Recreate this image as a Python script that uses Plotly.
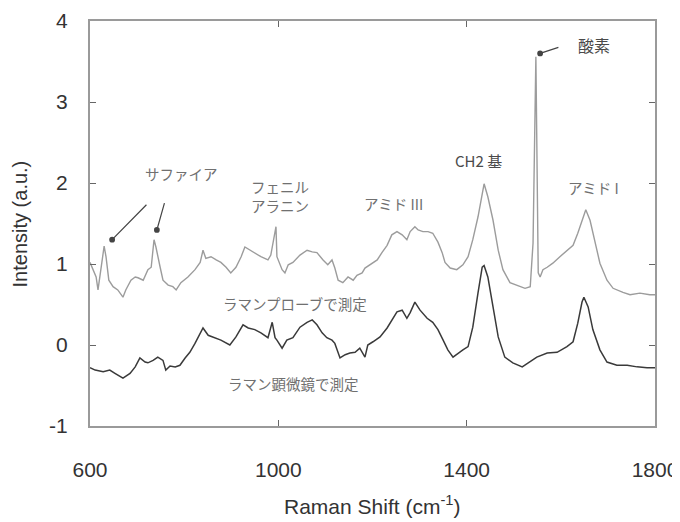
import plotly.graph_objects as go

# Top spectrum (Raman probe) — wavenumber (cm-1) and intensity
probe_x = [600, 602, 613, 617, 623, 630, 634, 640, 649, 659, 670, 676, 687, 696, 702, 713,
           723, 730, 736, 740, 749, 755, 766, 776, 783, 793, 808, 823, 834, 840, 846, 857,
           868, 878, 889, 899, 910, 921, 929, 940, 950, 963, 978, 984, 995, 997, 1008, 1014,
           1021, 1031, 1046, 1061, 1072, 1082, 1095, 1105, 1114, 1120, 1127, 1137, 1148, 1159,
           1167, 1178, 1184, 1195, 1201, 1210, 1220, 1231, 1241, 1252, 1263, 1273, 1280, 1290,
           1297, 1307, 1318, 1328, 1339, 1348, 1354, 1365, 1379, 1392, 1403, 1413, 1424, 1435,
           1437, 1445, 1456, 1467, 1477, 1492, 1507, 1524, 1535, 1541, 1547, 1552, 1556, 1562,
           1571, 1583, 1598, 1613, 1626, 1636, 1647, 1653, 1662, 1673, 1683, 1698, 1711, 1732,
           1747, 1768, 1789, 1800]
probe_y = [1.02, 0.99, 0.84, 0.68, 0.93, 1.22, 1.09, 0.80, 0.72, 0.68, 0.59, 0.68, 0.80, 0.84, 0.83, 0.80,
           0.93, 0.96, 1.30, 1.21, 0.96, 0.80, 0.74, 0.72, 0.68, 0.77, 0.84, 0.93, 1.02, 1.17, 1.07, 1.09,
           1.05, 1.02, 0.96, 0.89, 0.96, 1.09, 1.21, 1.17, 1.14, 1.09, 1.05, 1.11, 1.46, 1.09, 0.93, 0.89,
           0.99, 1.02, 1.11, 1.17, 1.15, 1.14, 1.05, 0.99, 1.05, 0.95, 0.80, 0.77, 0.84, 0.80,
           0.86, 0.89, 0.95, 0.99, 1.01, 1.05, 1.14, 1.23, 1.36, 1.40, 1.36, 1.30, 1.40, 1.46,
           1.42, 1.40, 1.40, 1.38, 1.27, 1.14, 1.02, 0.95, 0.93, 0.99, 1.09, 1.30, 1.58, 1.91,
           1.99, 1.83, 1.54, 1.17, 0.93, 0.77, 0.74, 0.70, 0.72, 1.26, 3.56, 0.89, 0.84, 0.93,
           0.96, 1.01, 1.09, 1.17, 1.23, 1.38, 1.58, 1.67, 1.54, 1.26, 1.01, 0.80, 0.70, 0.65,
           0.62, 0.64, 0.62, 0.62]

# Bottom spectrum (Raman microscope)
micro_x = [600, 611, 628, 642, 653, 670, 685, 696, 706, 717, 723, 734, 744, 755, 761, 770,
           781, 791, 802, 812, 823, 834, 840, 851, 865, 878, 897, 910, 925, 936, 950, 963,
           978, 987, 993, 997, 1008, 1018, 1031, 1046, 1061, 1072, 1082, 1093, 1103, 1114,
           1120, 1131, 1142, 1152, 1163, 1173, 1184, 1190, 1201, 1216, 1231, 1241, 1252, 1263,
           1273, 1280, 1290, 1301, 1316, 1328, 1339, 1350, 1360, 1371, 1382, 1392, 1403, 1413,
           1424, 1433, 1437, 1445, 1456, 1467, 1481, 1498, 1518, 1535, 1549, 1571, 1592, 1613,
           1626, 1636, 1645, 1649, 1658, 1668, 1683, 1698, 1719, 1741, 1762, 1783, 1800]
micro_y = [-0.28, -0.31, -0.33, -0.31, -0.35, -0.41, -0.35, -0.27, -0.16, -0.21, -0.22, -0.19, -0.15, -0.19, -0.31, -0.26,
           -0.27, -0.25, -0.16, -0.09, 0.02, 0.15, 0.21, 0.12, 0.09, 0.06, 0.00, 0.10, 0.25, 0.21, 0.19, 0.15,
           0.09, 0.28, 0.09, 0.06, -0.04, 0.06, 0.09, 0.22, 0.28, 0.31, 0.25, 0.15, 0.09, 0.06,
           0.02, -0.16, -0.12, -0.10, -0.09, -0.04, -0.15, 0.00, 0.04, 0.10, 0.21, 0.31, 0.41, 0.43,
           0.33, 0.40, 0.53, 0.43, 0.33, 0.28, 0.19, 0.06, -0.06, -0.15, -0.10, -0.06, -0.02, 0.22,
           0.64, 0.96, 0.98, 0.84, 0.47, 0.10, -0.15, -0.22, -0.27, -0.21, -0.15, -0.10, -0.09, -0.02,
           0.04, 0.27, 0.53, 0.59, 0.47, 0.19, -0.06, -0.21, -0.25, -0.25, -0.27, -0.28, -0.28]

x_ticks = [600, 1000, 1400, 1800]
y_ticks = [-1, 0, 1, 2, 3, 4]

JP = "Noto Sans CJK JP"
SANS = "Liberation Sans, Arial, sans-serif"
FRAME = "#9a9a9a"

fig = go.Figure()
fig.add_trace(go.Scatter(x=probe_x, y=probe_y, mode="lines",
                         line=dict(color="#9c9c9c", width=1.4), showlegend=False))
fig.add_trace(go.Scatter(x=micro_x, y=micro_y, mode="lines",
                         line=dict(color="#3a3a3a", width=1.5), showlegend=False))

def label(x, y, text, color="#707070", size=14.5):
    fig.add_annotation(x=x, y=y, xref="x", yref="y", text=text, showarrow=False,
                       font=dict(family=JP, size=size, color=color))

label(794, 2.12, "サファイア")
label(1004, 1.845, "フェニル<br>アラニン")
label(1244, 1.75, "アミド III")
label(1426, 2.28, "CH2 基", color="#4a4a4a", size=15)
label(1670, 1.95, "アミド I")
label(1670, 3.70, "酸素", color="#4a4a4a", size=16)
label(1035, 0.51, "ラマンプローブで測定")
label(1033, -0.47, "ラマン顕微鏡で測定")

def arrow(x, y, ax, ay):
    fig.add_annotation(x=x, y=y, ax=ax, ay=ay, xref="x", yref="y", axref="x", ayref="y",
                       text="", showarrow=True, arrowhead=6, arrowsize=1.2,
                       arrowwidth=1.2, arrowcolor="#444444", standoff=0)

arrow(647, 1.30, 723, 1.75)
arrow(742, 1.42, 759, 1.77)
arrow(1556, 3.60, 1598, 3.68)

# axis titles placed as paper annotations for precise positioning
fig.add_annotation(x=0.499, y=-0.195, xref="paper", yref="paper", showarrow=False,
                   text="Raman Shift (cm<sup>-1</sup>)", xanchor="center", yanchor="middle",
                   font=dict(family=SANS, size=21, color="#333333"))
fig.add_annotation(x=-0.124, y=0.5, xref="paper", yref="paper", showarrow=False,
                   text="Intensity (a.u.)", textangle=-90, xanchor="center", yanchor="middle",
                   font=dict(family=SANS, size=20, color="#333333"))

fig.update_xaxes(range=[600, 1800], tickvals=x_ticks, ticktext=[str(v) for v in x_ticks],
                 ticks="inside", ticklen=6, tickcolor="#666666", tickwidth=1,
                 showline=True, linecolor=FRAME, linewidth=2, mirror="ticks",
                 showgrid=False, zeroline=False, ticklabelstandoff=24, automargin=False,
                 tickfont=dict(family=SANS, size=21, color="#333333"))
fig.update_yaxes(range=[-1, 4], tickvals=y_ticks, ticktext=[str(v) for v in y_ticks],
                 ticks="inside", ticklen=6, tickcolor="#666666", tickwidth=1,
                 showline=True, linecolor=FRAME, linewidth=2, mirror="ticks",
                 showgrid=False, zeroline=False, ticklabelstandoff=16, automargin=False,
                 tickfont=dict(family=SANS, size=21, color="#333333"))

# page body adds an 8px offset, so the figure is drawn 8px smaller with margins reduced
fig.update_layout(width=672, height=514, margin=dict(l=82, r=25, t=13, b=96),
                  plot_bgcolor="white", paper_bgcolor="white")

fig.write_html("out.html")
